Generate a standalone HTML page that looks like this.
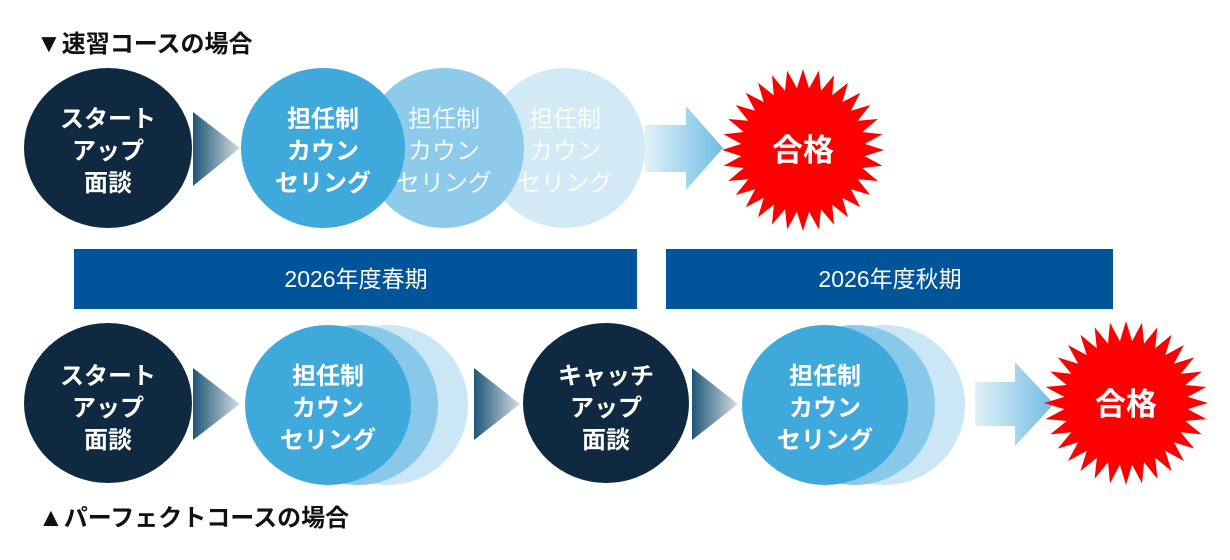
<!DOCTYPE html>
<html><head><meta charset="utf-8"><style>
html,body{margin:0;padding:0;background:#fff;}
body{width:1230px;height:555px;overflow:hidden;font-family:"Liberation Sans","Noto Sans CJK JP",sans-serif;}
svg text{font-family:"Liberation Sans","Noto Sans CJK JP",sans-serif;}
</style></head><body>
<svg id="s" width="1230" height="555" viewBox="0 0 1230 555" xmlns="http://www.w3.org/2000/svg">
<defs>
<linearGradient id="tri" x1="0" x2="1" y1="0" y2="0"><stop offset="0" stop-color="#1f5678"/><stop offset="1" stop-color="#d4dde3"/></linearGradient>
<linearGradient id="arr" x1="0" x2="1" y1="0" y2="0"><stop offset="0" stop-color="#e2f1f9"/><stop offset="1" stop-color="#6fbde4"/></linearGradient>
</defs>
<text x="36" y="52" font-size="24" font-weight="bold" fill="#111"><tspan font-size="26">▼</tspan>速習コースの場合</text>
<text x="38" y="526" font-size="24" font-weight="bold" fill="#111"><tspan font-size="26">▲</tspan>パーフェクトコースの場合</text>

<!-- top row -->
<ellipse cx="108" cy="148" rx="84" ry="80" fill="#0f2a40"/>
<g fill="#fff" font-size="24" font-weight="bold" text-anchor="middle">
<text x="108" y="127">スタート</text><text x="108" y="159">アップ</text><text x="108" y="191">面談</text></g>
<polygon points="193,112 240,148 193,186" fill="url(#tri)"/>
<ellipse cx="565" cy="148" rx="80" ry="80" fill="#d2eaf6"/>
<ellipse cx="444" cy="148" rx="80" ry="80" fill="#8ecbea"/>
<ellipse cx="323" cy="148" rx="82" ry="80" fill="#40a9dc"/>
<g fill="#fff" font-size="24" font-weight="bold" text-anchor="middle">
<text x="323" y="127">担任制</text><text x="323" y="159">カウン</text><text x="323" y="191">セリング</text></g>
<g fill="#fff" font-size="24" text-anchor="middle" opacity="0.9">
<text x="444" y="127">担任制</text><text x="444" y="159">カウン</text><text x="444" y="191">セリング</text>
<text x="565" y="127">担任制</text><text x="565" y="159">カウン</text><text x="565" y="191">セリング</text></g>
<polygon points="645,125 686,125 686,106 723,148 686,190 686,172 645,172" fill="url(#arr)"/>
<polygon id="b1" fill="#ff0000"/>
<text x="803" y="161" font-size="31" font-weight="bold" fill="#fff" text-anchor="middle">合格</text>

<!-- bars -->
<rect x="74" y="249" width="563" height="60" fill="#005499"/>
<rect x="666" y="249" width="447" height="60" fill="#005499"/>
<text x="356" y="287" font-size="23" fill="#fff" text-anchor="middle">2026年度春期</text>
<text x="890" y="287" font-size="23" fill="#fff" text-anchor="middle">2026年度秋期</text>

<!-- bottom row -->
<ellipse cx="108" cy="403" rx="84" ry="80" fill="#0f2a40"/>
<g fill="#fff" font-size="24" font-weight="bold" text-anchor="middle">
<text x="108" y="384">スタート</text><text x="108" y="416">アップ</text><text x="108" y="448">面談</text></g>
<polygon points="193,368 240,404 193,440" fill="url(#tri)"/>
<ellipse cx="388" cy="405" rx="80" ry="80" fill="#cbe6f4"/>
<ellipse cx="358" cy="405" rx="80" ry="80" fill="#88c8e9"/>
<ellipse cx="328" cy="405" rx="83" ry="80" fill="#40a9dc"/>
<g fill="#fff" font-size="24" font-weight="bold" text-anchor="middle">
<text x="328" y="384">担任制</text><text x="328" y="416">カウン</text><text x="328" y="448">セリング</text></g>
<polygon points="474,368 520,404 474,440" fill="url(#tri)"/>
<ellipse cx="606" cy="403" rx="83" ry="80" fill="#0f2a40"/>
<g fill="#fff" font-size="24" font-weight="bold" text-anchor="middle">
<text x="606" y="384">キャッチ</text><text x="606" y="416">アップ</text><text x="606" y="448">面談</text></g>
<polygon points="692,368 738,404 692,440" fill="url(#tri)"/>
<ellipse cx="885" cy="405" rx="80" ry="80" fill="#cbe6f4"/>
<ellipse cx="855" cy="405" rx="80" ry="80" fill="#88c8e9"/>
<ellipse cx="825" cy="405" rx="83" ry="80" fill="#40a9dc"/>
<g fill="#fff" font-size="24" font-weight="bold" text-anchor="middle">
<text x="825" y="384">担任制</text><text x="825" y="416">カウン</text><text x="825" y="448">セリング</text></g>
<polygon points="975,382 1015,382 1015,362 1054,404 1015,446 1015,426 975,426" fill="url(#arr)"/>
<polygon id="b2" fill="#ff0000"/>
<text x="1126" y="415" font-size="31" font-weight="bold" fill="#fff" text-anchor="middle">合格</text>
</svg>
<script>
function star(id,cx,cy,ro,ri,n){var p=[];for(var i=0;i<2*n;i++){var a=Math.PI*i/n-Math.PI/2;var r=i%2?ri:ro;p.push((cx+r*Math.cos(a)).toFixed(1)+","+(cy+r*Math.sin(a)).toFixed(1));}document.getElementById(id).setAttribute("points",p.join(" "));}
star("b1",803,150,81,62,32);star("b2",1126,403,82,62,32);
</script>
</body></html>
